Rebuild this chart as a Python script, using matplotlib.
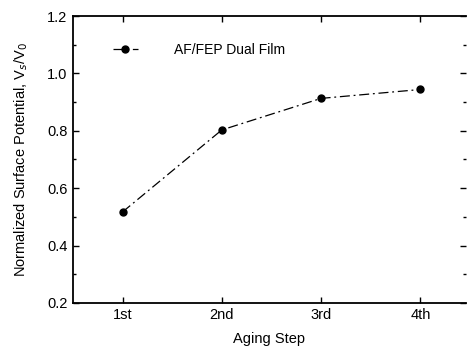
import matplotlib
matplotlib.use("Agg")
import matplotlib.pyplot as plt
from matplotlib.ticker import MultipleLocator

plt.rcParams['font.family'] = ['Liberation Sans', 'DejaVu Sans']

steps = ["1st", "2nd", "3rd", "4th"]
values = [0.517, 0.803, 0.913, 0.944]
series_name = "AF/FEP Dual Film"

fig = plt.figure(figsize=(4.67, 3.49), dpi=100)
ax = fig.add_axes([0.156, 0.132, 0.842, 0.822])
x = list(range(1, len(steps) + 1))
ax.plot(x, values, color='black', linestyle=(0, (8, 3, 1.5, 3)), linewidth=0.9,
        marker='o', markersize=5, label=series_name)

ax.set_xlim(0.5, 4.46)
ax.set_ylim(0.2, 1.2)
ax.set_xticks(x)
ax.set_xticklabels(steps)
ax.yaxis.set_major_locator(MultipleLocator(0.2))
ax.yaxis.set_minor_locator(MultipleLocator(0.1))
ax.set_yticklabels([f"{v:.1f}" for v in ax.get_yticks()])
ax.tick_params(which='both', direction='in', top=True, right=True, labelsize=10.5, width=1)
ax.tick_params(which='major', length=4, pad=4)
ax.tick_params(which='minor', length=2)
for s in ['left', 'bottom', 'top']:
    ax.spines[s].set_linewidth(1.3)
ax.spines['right'].set_visible(False)

ax.set_xlabel("Aging Step", fontsize=10.5, labelpad=7)
ax.set_ylabel(r"Normalized Surface Potential, V$_s$/V$_0$", fontsize=10.5, labelpad=12)

ax.legend(loc='upper left', frameon=False, fontsize=10, bbox_to_anchor=(0.07, 0.95),
          handlelength=1.8, handletextpad=2.6)

fig.savefig("out.png", dpi=100)
